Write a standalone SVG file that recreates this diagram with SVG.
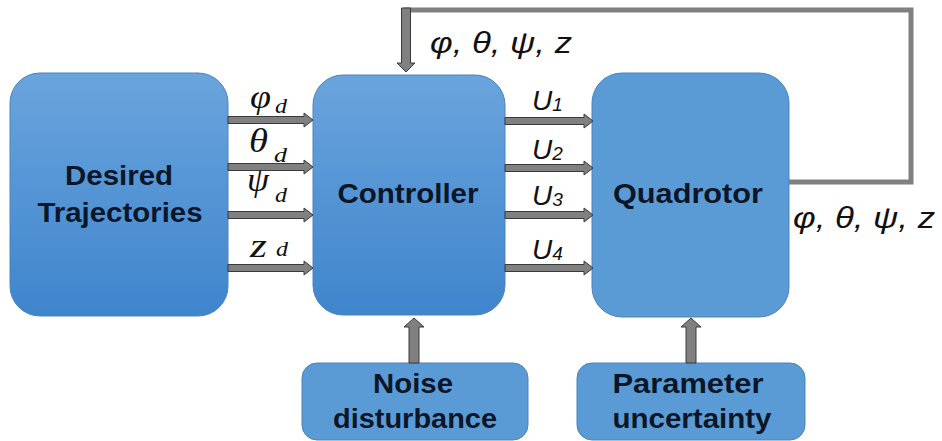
<svg xmlns="http://www.w3.org/2000/svg" width="942" height="441" viewBox="0 0 942 441">
<style>
.box{stroke:#4a83bd;stroke-width:1}
.lbl{font-family:"Liberation Sans",Arial,sans-serif;font-weight:bold;font-size:28px;fill:#0b1628;text-anchor:middle}
.arr{fill:#808080;stroke:#3a3a3a;stroke-width:1}
.wire{fill:none;stroke:#808080;stroke-width:5}
.math{font-family:"Liberation Serif","DejaVu Serif",serif;font-style:italic;font-size:34px;fill:#111}
.sub{font-family:"Liberation Serif","DejaVu Serif",serif;font-style:italic;font-size:21px;fill:#111}
.u{font-family:"Liberation Sans",Arial,sans-serif;font-style:italic;font-size:28px;fill:#111}
.usub{font-size:19px}
.fb{font-family:"Liberation Sans",Arial,sans-serif;font-style:italic;font-size:29px;fill:#111}
</style>
<defs>
<linearGradient id="g1" x1="0" y1="0" x2="0" y2="1">
<stop offset="0" stop-color="#6aa4dd"/>
<stop offset="1" stop-color="#3f85cc"/>
</linearGradient>
</defs>
<rect width="942" height="441" fill="#ffffff"/>

<g id="desired">
<rect class="box" x="10" y="73" width="218" height="243" rx="30" fill="url(#g1)"/>
<text class="lbl" x="119" y="185" textLength="108" lengthAdjust="spacingAndGlyphs">Desired</text>
<text class="lbl" x="120" y="222" textLength="165" lengthAdjust="spacingAndGlyphs">Trajectories</text>
</g>

<g id="controller">
<rect class="box" x="313" y="75" width="192" height="240" rx="30" fill="url(#g1)"/>
<text class="lbl" x="408" y="203" textLength="141" lengthAdjust="spacingAndGlyphs">Controller</text>
</g>

<g id="quadrotor">
<rect class="box" x="592" y="73" width="197" height="244" rx="30" fill="#5b9bd5"/>
<text class="lbl" x="688" y="203" textLength="150" lengthAdjust="spacingAndGlyphs">Quadrotor</text>
</g>

<g id="noise">
<rect class="box" x="302" y="363" width="226" height="77" rx="15" fill="#5b9bd5"/>
<text class="lbl" x="413" y="393" textLength="80" lengthAdjust="spacingAndGlyphs">Noise</text>
<text class="lbl" x="415" y="428" textLength="164" lengthAdjust="spacingAndGlyphs">disturbance</text>
</g>

<g id="parameter">
<rect class="box" x="577" y="363" width="228" height="77" rx="15" fill="#5b9bd5"/>
<text class="lbl" x="688" y="393" textLength="151" lengthAdjust="spacingAndGlyphs">Parameter</text>
<text class="lbl" x="692" y="428" textLength="159" lengthAdjust="spacingAndGlyphs">uncertainty</text>
</g>

<g id="connectors">
<path class="wire" d="M789,182 H911 V10 H404"/>
<path class="arr" d="M401.5,8 H410.5 V63 H415 L406,72 L397,63 H401.5 Z"/>
<path class="arr" d="M228,116.5 H304 V113 L313,120 L304,127 V123.5 H228 Z"/>
<path class="arr" d="M228,163.5 H304 V160 L313,167 L304,174 V170.5 H228 Z"/>
<path class="arr" d="M228,211.5 H304 V208 L313,215 L304,222 V218.5 H228 Z"/>
<path class="arr" d="M228,264.5 H304 V261 L313,268 L304,275 V271.5 H228 Z"/>
<path class="arr" d="M505,117.5 H584 V114 L593,121 L584,128 V124.5 H505 Z"/>
<path class="arr" d="M505,164.5 H584 V161 L593,168 L584,175 V171.5 H505 Z"/>
<path class="arr" d="M505,211.5 H584 V208 L593,215 L584,222 V218.5 H505 Z"/>
<path class="arr" d="M505,264.5 H584 V261 L593,268 L584,275 V271.5 H505 Z"/>
<path class="arr" d="M409,363 V327 H404 L414,318 L424,327 H419 V363 Z"/>
<path class="arr" d="M686,363 V327 H681 L691,318 L701,327 H696 V363 Z"/>
</g>

<g id="labels">
<text class="fb" x="430" y="53" textLength="142" lengthAdjust="spacingAndGlyphs">φ, θ, ψ, z</text>
<text class="fb" x="793" y="228" textLength="142" lengthAdjust="spacingAndGlyphs">φ, θ, ψ, z</text>
<text class="math" x="250" y="108" textLength="21" lengthAdjust="spacingAndGlyphs">φ</text>
<text class="sub" x="275" y="113" textLength="12" lengthAdjust="spacingAndGlyphs">d</text>
<text class="math" x="249" y="152" textLength="19" lengthAdjust="spacingAndGlyphs">θ</text>
<text class="sub" x="274" y="162" textLength="13" lengthAdjust="spacingAndGlyphs">d</text>
<text class="math" x="247" y="191" textLength="22" lengthAdjust="spacingAndGlyphs">ψ</text>
<text class="sub" x="275" y="202" textLength="12" lengthAdjust="spacingAndGlyphs">d</text>
<text class="math" x="250" y="257" textLength="17" lengthAdjust="spacingAndGlyphs">z</text>
<text class="sub" x="276" y="256" textLength="12" lengthAdjust="spacingAndGlyphs">d</text>
<text class="u" x="532" y="110">U<tspan class="usub" dy="1">1</tspan></text>
<text class="u" x="532" y="159">U<tspan class="usub" dy="1">2</tspan></text>
<text class="u" x="532" y="205">U<tspan class="usub" dy="1">3</tspan></text>
<text class="u" x="532" y="259">U<tspan class="usub" dy="1">4</tspan></text>
</g>
</svg>
